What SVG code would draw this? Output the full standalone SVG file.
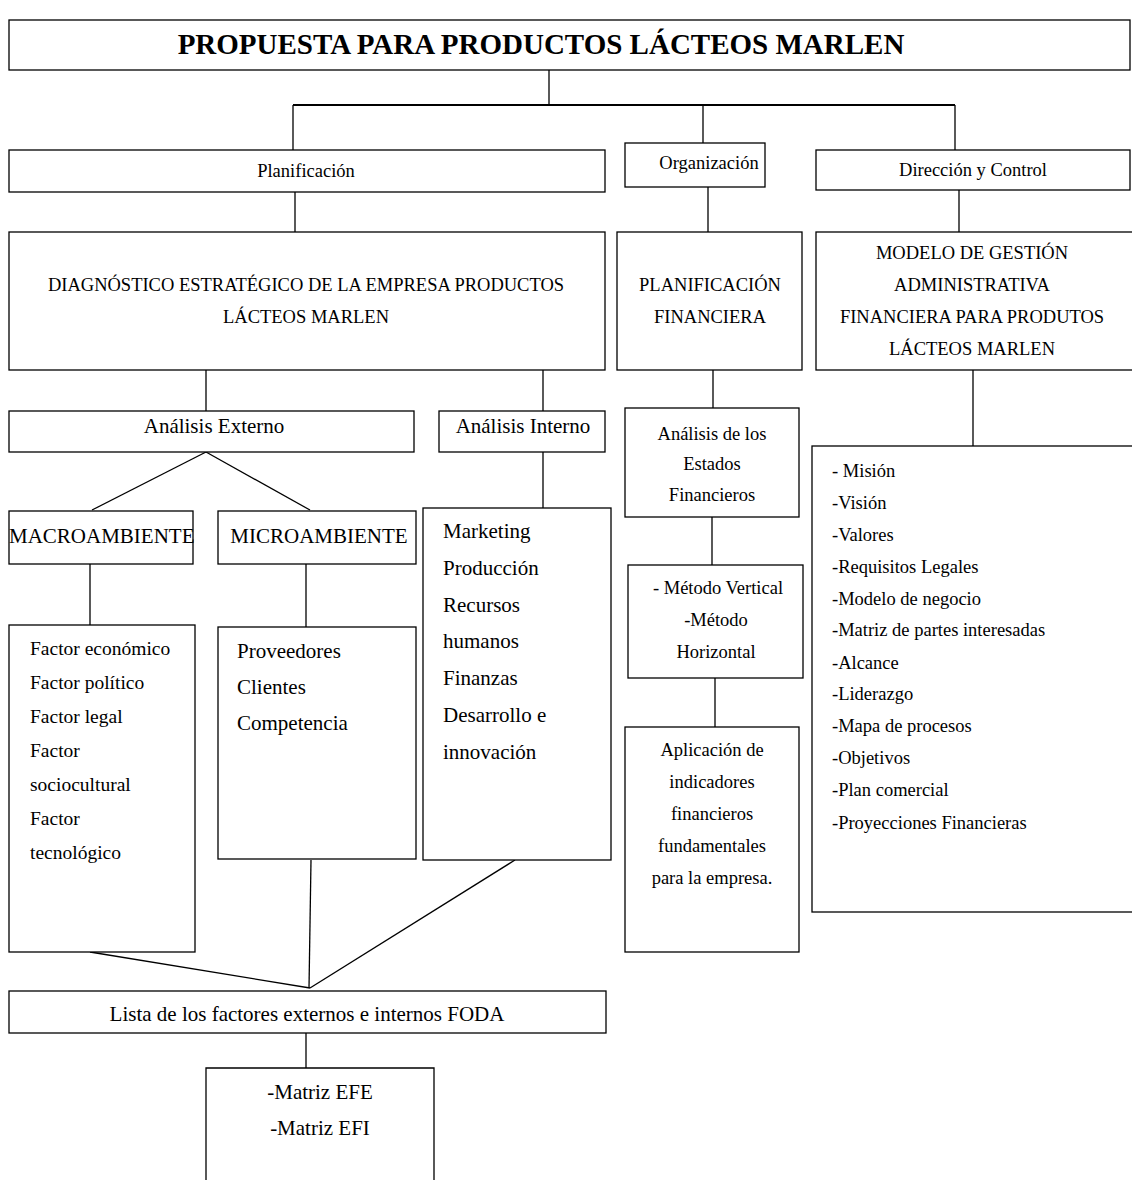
<svg xmlns="http://www.w3.org/2000/svg" width="1132" height="1180" viewBox="0 0 1132 1180">
<style>
text{font-family:"Liberation Serif","Times New Roman",serif;fill:#000}
.b{fill:#fff;stroke:#000;stroke-width:1.3}
.c{stroke:#000;stroke-width:1.3;fill:none}
.m{text-anchor:middle}
.t{font-size:29px;font-weight:bold}
.s18{font-size:18.5px}
.s19{font-size:19.5px}
.s21{font-size:21px}
</style>
<rect width="1132" height="1180" fill="#fff"/>
<g id="connectors">
<line class="c" x1="549" y1="70" x2="549" y2="105"/>
<line x1="293" y1="105" x2="955" y2="105" stroke="#000" stroke-width="2.2"/>
<line class="c" x1="293" y1="105" x2="293" y2="150"/>
<line class="c" x1="703" y1="105" x2="703" y2="143"/>
<line class="c" x1="955" y1="105" x2="955" y2="150"/>
<line class="c" x1="295" y1="192" x2="295" y2="232"/>
<line class="c" x1="708" y1="187" x2="708" y2="232"/>
<line class="c" x1="959" y1="190" x2="959" y2="232"/>
<line class="c" x1="206" y1="370" x2="206" y2="411"/>
<line class="c" x1="543" y1="370" x2="543" y2="411"/>
<line class="c" x1="206" y1="452" x2="92" y2="510"/>
<line class="c" x1="206" y1="452" x2="310" y2="510"/>
<line class="c" x1="543" y1="452" x2="543" y2="508"/>
<line class="c" x1="90" y1="564" x2="90" y2="625"/>
<line class="c" x1="306" y1="564" x2="306" y2="627"/>
<line class="c" x1="90" y1="952" x2="310" y2="988"/>
<line class="c" x1="311" y1="860" x2="309" y2="988"/>
<line class="c" x1="515" y1="860" x2="310" y2="988"/>
<line class="c" x1="306" y1="1033" x2="306" y2="1068"/>
<line class="c" x1="713" y1="370" x2="713" y2="408"/>
<line class="c" x1="712" y1="517" x2="712" y2="565"/>
<line class="c" x1="715" y1="678" x2="715" y2="727"/>
<line class="c" x1="973" y1="370" x2="973" y2="446"/>
</g>
<g id="title"><rect class="b" x="9" y="20" width="1121" height="50"/><text class="t m" x="541" y="54">PROPUESTA PARA PRODUCTOS LÁCTEOS MARLEN</text></g>
<g id="planificacion"><rect class="b" x="9" y="150" width="596" height="42"/><text class="s18 m" x="306" y="177">Planificación</text></g>
<g id="organizacion"><rect class="b" x="625" y="143" width="140" height="44"/><text class="s18 m" x="709" y="169">Organización</text></g>
<g id="direccion"><rect class="b" x="816" y="150" width="314" height="40"/><text class="s18 m" x="973" y="176">Dirección y Control</text></g>
<g id="diagnostico"><rect class="b" x="9" y="232" width="596" height="138"/><text class="s18 m" x="306" y="291">DIAGNÓSTICO ESTRATÉGICO DE LA EMPRESA PRODUCTOS</text><text class="s18 m" x="306" y="323">LÁCTEOS MARLEN</text></g>
<g id="planfin"><rect class="b" x="617" y="232" width="185" height="138"/><text class="s18 m" x="710" y="291">PLANIFICACIÓN</text><text class="s18 m" x="710" y="323">FINANCIERA</text></g>
<g id="modelo"><rect class="b" x="816" y="232" width="320" height="138"/><text class="s18 m" x="972" y="259">MODELO DE GESTIÓN</text><text class="s18 m" x="972" y="291">ADMINISTRATIVA</text><text class="s18 m" x="972" y="323">FINANCIERA PARA PRODUTOS</text><text class="s18 m" x="972" y="355">LÁCTEOS MARLEN</text></g>
<g id="externo"><rect class="b" x="9" y="411" width="405" height="41"/><text class="s21 m" x="214" y="433">Análisis Externo</text></g>
<g id="interno"><rect class="b" x="439" y="411" width="166" height="41"/><text class="s21 m" x="523" y="433">Análisis Interno</text></g>
<g id="macro"><rect class="b" x="9" y="511" width="184" height="53"/><text class="s21" x="9" y="543">MACROAMBIENTE</text></g>
<g id="micro"><rect class="b" x="218" y="511" width="198" height="53"/><text class="s21 m" x="319" y="543">MICROAMBIENTE</text></g>
<g id="internos"><rect class="b" x="423" y="508" width="188" height="352"/>
<text class="s21" x="443" y="538">Marketing</text><text class="s21" x="443" y="575">Producción</text><text class="s21" x="443" y="612">Recursos</text><text class="s21" x="443" y="648">humanos</text><text class="s21" x="443" y="685">Finanzas</text><text class="s21" x="443" y="722">Desarrollo e</text><text class="s21" x="443" y="759">innovación</text></g>
<g id="factores"><rect class="b" x="9" y="625" width="186" height="327"/>
<text class="s19" x="30" y="655">Factor económico</text><text class="s19" x="30" y="689">Factor político</text><text class="s19" x="30" y="723">Factor legal</text><text class="s19" x="30" y="757">Factor</text><text class="s19" x="30" y="791">sociocultural</text><text class="s19" x="30" y="825">Factor</text><text class="s19" x="30" y="859">tecnológico</text></g>
<g id="proveedores"><rect class="b" x="218" y="627" width="198" height="232"/>
<text class="s21" x="237" y="658">Proveedores</text><text class="s21" x="237" y="694">Clientes</text><text class="s21" x="237" y="730">Competencia</text></g>
<g id="lista"><rect class="b" x="9" y="991" width="597" height="42"/><text class="s21 m" x="307" y="1021">Lista de los factores externos e internos FODA</text></g>
<g id="matrices"><path class="c" d="M206 1180 V1068 H434 V1180"/><text class="s21 m" x="320" y="1099">-Matriz EFE</text><text class="s21 m" x="320" y="1135">-Matriz EFI</text></g>
<g id="estados"><rect class="b" x="625" y="408" width="174" height="109"/><text class="s18 m" x="712" y="440">Análisis de los</text><text class="s18 m" x="712" y="470">Estados</text><text class="s18 m" x="712" y="501">Financieros</text></g>
<g id="metodo"><rect class="b" x="628" y="565" width="175" height="113"/><text class="s18 m" x="718" y="594">- Método Vertical</text><text class="s18 m" x="716" y="626">-Método</text><text class="s18 m" x="716" y="658">Horizontal</text></g>
<g id="aplicacion"><rect class="b" x="625" y="727" width="174" height="225"/><text class="s18 m" x="712" y="756">Aplicación de</text><text class="s18 m" x="712" y="788">indicadores</text><text class="s18 m" x="712" y="820">financieros</text><text class="s18 m" x="712" y="852">fundamentales</text><text class="s18 m" x="712" y="884">para la empresa.</text></g>
<g id="elementos"><rect class="b" x="812" y="446" width="330" height="466"/>
<text class="s18" x="832" y="477">- Misión</text><text class="s18" x="832" y="509">-Visión</text><text class="s18" x="832" y="541">-Valores</text><text class="s18" x="832" y="573">-Requisitos Legales</text><text class="s18" x="832" y="605">-Modelo de negocio</text><text class="s18" x="832" y="636">-Matriz de partes interesadas</text><text class="s18" x="832" y="669">-Alcance</text><text class="s18" x="832" y="700">-Liderazgo</text><text class="s18" x="832" y="732">-Mapa de procesos</text><text class="s18" x="832" y="764">-Objetivos</text><text class="s18" x="832" y="796">-Plan comercial</text><text class="s18" x="832" y="829">-Proyecciones Financieras</text></g>
</svg>
